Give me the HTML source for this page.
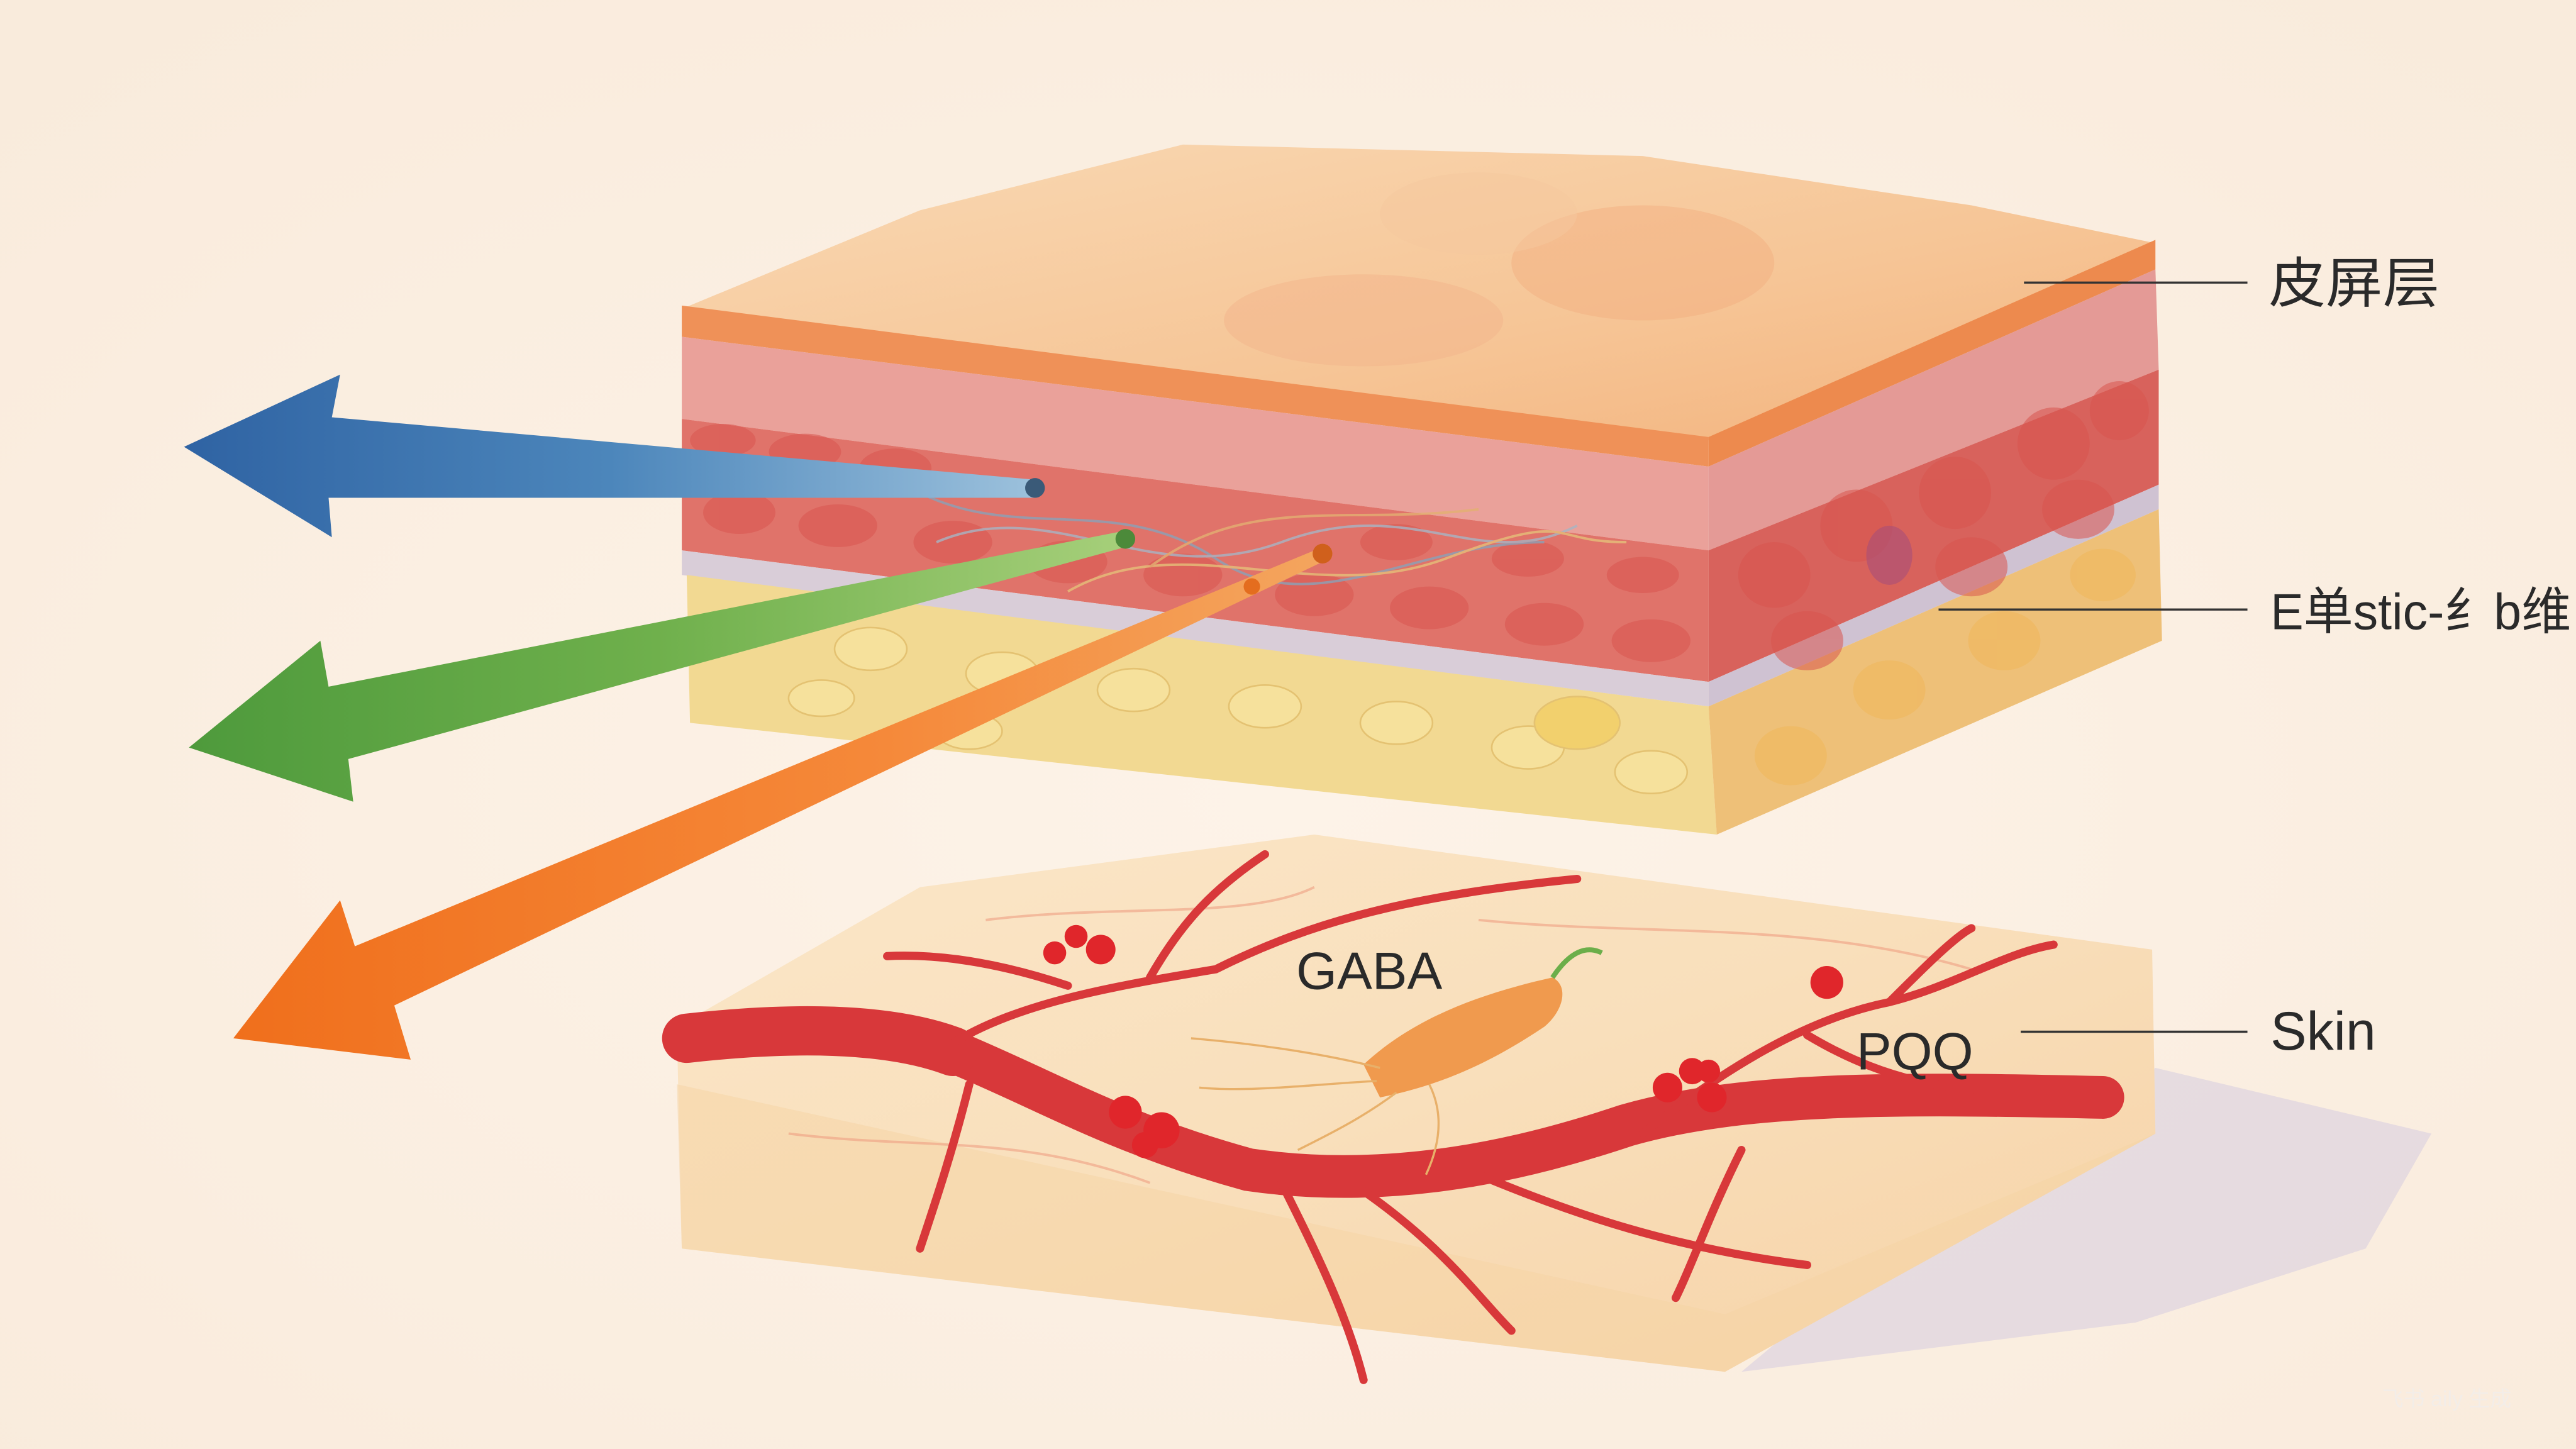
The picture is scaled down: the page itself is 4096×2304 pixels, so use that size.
<!DOCTYPE html>
<html><head><meta charset="utf-8"><style>
html,body{margin:0;padding:0;width:4096px;height:2304px;overflow:hidden;background:#fcf0e4}
svg{display:block}
text{font-family:"Liberation Sans","Noto Sans CJK SC",sans-serif;fill:#2a2a2a}
</style></head><body>
<svg width="4096" height="2304" viewBox="0 0 1568 882" preserveAspectRatio="none" xmlns="http://www.w3.org/2000/svg">
<defs>
<radialGradient id="bg" cx="0.5" cy="0.55" r="0.7"><stop offset="0" stop-color="#fdf3e8"/><stop offset="1" stop-color="#f9ebdc"/></radialGradient>
<linearGradient id="top" x1="0" y1="0" x2="1" y2="1"><stop offset="0" stop-color="#f9d9b4"/><stop offset="0.6" stop-color="#f6c596"/><stop offset="1" stop-color="#f3b27c"/></linearGradient>
<linearGradient id="blue" x1="0" x2="1"><stop offset="0" stop-color="#2f63a3"/><stop offset="0.5" stop-color="#4c86bb"/><stop offset="1" stop-color="#9cc1dc"/></linearGradient>
<linearGradient id="green" x1="0" x2="1"><stop offset="0" stop-color="#4e9a3c"/><stop offset="0.5" stop-color="#6fb04c"/><stop offset="1" stop-color="#a6cf7a"/></linearGradient>
<linearGradient id="orange" x1="0" x2="1"><stop offset="0" stop-color="#f06f1c"/><stop offset="0.6" stop-color="#f5893a"/><stop offset="1" stop-color="#f4a55e"/></linearGradient>
<linearGradient id="slab" x1="0" y1="0" x2="1" y2="1"><stop offset="0" stop-color="#fae6c8"/><stop offset="0.5" stop-color="#f9dfbb"/><stop offset="1" stop-color="#f6d2a6"/></linearGradient>
</defs>
<rect width="1568" height="882" fill="url(#bg)"/>

<polygon points="415,188 560,128 720,88 1000,95 1200,125 1312,148 1040,268" fill="url(#top)"/>
<ellipse cx="830" cy="195" rx="85" ry="28" fill="#f4b88e" opacity="0.6"/>
<ellipse cx="1000" cy="160" rx="80" ry="35" fill="#f2ad7e" opacity="0.45"/>
<ellipse cx="900" cy="130" rx="60" ry="25" fill="#f6c79e" opacity="0.5"/>
<polygon points="415,186 1040,266 1040,284 415,205" fill="#ef9158"/>
<polygon points="415,205 1040,284 1040,335 415,255" fill="#eaa19a"/>
<polygon points="415,255 1040,335 1040,415 415,335" fill="#e0736a"/>
<polygon points="415,335 1040,415 1040,430 415,350" fill="#d9cdd8"/>
<polygon points="418,350 1040,430 1045,508 420,440" fill="#f2d992"/>
<polygon points="1040,266 1312,146 1312,164 1040,284" fill="#ed8a4e"/>
<polygon points="1040,284 1312,164 1314,225 1040,335" fill="#e49a96"/>
<polygon points="1040,335 1314,225 1314,295 1040,415" fill="#d8625c"/>
<polygon points="1040,415 1314,295 1314,310 1040,430" fill="#cfc2d2"/>
<polygon points="1040,430 1314,310 1316,390 1045,508" fill="#eec078"/>
<g fill="#d9554f" opacity="0.55">
<ellipse cx="440" cy="268" rx="20" ry="10"/><ellipse cx="490" cy="275" rx="22" ry="11"/><ellipse cx="545" cy="285" rx="22" ry="12"/>
<ellipse cx="450" cy="312" rx="22" ry="13"/><ellipse cx="510" cy="320" rx="24" ry="13"/><ellipse cx="580" cy="330" rx="24" ry="13"/>
<ellipse cx="650" cy="342" rx="24" ry="13"/><ellipse cx="720" cy="350" rx="24" ry="13"/><ellipse cx="800" cy="362" rx="24" ry="13"/>
<ellipse cx="870" cy="370" rx="24" ry="13"/><ellipse cx="940" cy="380" rx="24" ry="13"/><ellipse cx="1005" cy="390" rx="24" ry="13"/>
<ellipse cx="850" cy="330" rx="22" ry="11"/><ellipse cx="930" cy="340" rx="22" ry="11"/><ellipse cx="1000" cy="350" rx="22" ry="11"/>
<ellipse cx="1080" cy="350" rx="22" ry="20"/><ellipse cx="1130" cy="320" rx="22" ry="22"/><ellipse cx="1190" cy="300" rx="22" ry="22"/>
<ellipse cx="1250" cy="270" rx="22" ry="22"/><ellipse cx="1290" cy="250" rx="18" ry="18"/><ellipse cx="1100" cy="390" rx="22" ry="18"/>
<ellipse cx="1200" cy="345" rx="22" ry="18"/><ellipse cx="1265" cy="310" rx="22" ry="18"/>
</g>
<ellipse cx="1150" cy="338" rx="14" ry="18" fill="#a84f78" opacity="0.6"/>
<g fill="#f7e29e" opacity="0.9" stroke="#e3c06f" stroke-width="1">
<ellipse cx="460" cy="380" rx="20" ry="12"/><ellipse cx="530" cy="395" rx="22" ry="13"/><ellipse cx="610" cy="410" rx="22" ry="13"/>
<ellipse cx="690" cy="420" rx="22" ry="13"/><ellipse cx="770" cy="430" rx="22" ry="13"/><ellipse cx="850" cy="440" rx="22" ry="13"/>
<ellipse cx="930" cy="455" rx="22" ry="13"/><ellipse cx="1005" cy="470" rx="22" ry="13"/><ellipse cx="500" cy="425" rx="20" ry="11"/>
<ellipse cx="590" cy="445" rx="20" ry="11"/><ellipse cx="960" cy="440" rx="26" ry="16" fill="#f2d069"/>
</g>
<g fill="#f0b75c" opacity="0.6">
<ellipse cx="1090" cy="460" rx="22" ry="18"/><ellipse cx="1150" cy="420" rx="22" ry="18"/><ellipse cx="1220" cy="390" rx="22" ry="18"/><ellipse cx="1280" cy="350" rx="20" ry="16"/>
</g>
<g fill="none" stroke-width="1.5" opacity="0.8">
<path d="M560,300 C620,330 680,300 740,340 S860,330 940,330" stroke="#8aa2b8"/>
<path d="M570,330 C640,300 700,360 780,330 S900,350 960,320" stroke="#a7b5c4"/>
<path d="M650,360 C720,320 800,370 880,340 S940,330 990,330" stroke="#e5c07a"/>
<path d="M700,345 C760,300 820,320 900,310" stroke="#e3b072"/>
</g>
<polygon points="112,272 207,228 202,254 630,292 630,303 200,303 202,327" fill="url(#blue)"/>
<polygon points="115,455 195,390 200,418 685,323 685,333 212,462 215,488" fill="url(#green)"/>
<polygon points="142,632 207,548 216,576 805,333 805,342 240,612 250,645" fill="url(#orange)"/>
<circle cx="630" cy="297" r="6" fill="#3a5a78"/>
<circle cx="685" cy="328" r="6" fill="#4c8a3a"/>
<circle cx="805" cy="337" r="6" fill="#d0601c"/>
<circle cx="762" cy="357" r="5" fill="#e46d1e"/>

<polygon points="1312,650 1480,690 1440,760 1300,805 1060,835 1150,760" fill="#d8cfe0" opacity="0.6"/>
<polygon points="412,625 560,540 800,508 1310,578 1312,690 1050,835 415,760" fill="url(#slab)"/>
<polygon points="412,660 1050,800 1312,690 1050,835 415,760" fill="#f6d4a4" opacity="0.5"/>
<g fill="none" stroke="#ef9f82" stroke-width="1.5" opacity="0.6">
<path d="M480,690 C560,700 620,690 700,720"/><path d="M900,560 C1000,570 1100,560 1200,590"/><path d="M600,560 C680,550 760,560 800,540"/>
</g>
<g fill="none" stroke="#d8383a" stroke-linecap="round">
<path d="M418,632 C480,625 540,625 580,640 C640,665 680,690 760,712 C850,725 930,705 990,685 C1060,665 1150,665 1280,668" stroke-width="26"/>
<path d="M418,632 C480,625 540,625 580,640" stroke-width="30"/>
<g stroke-width="5">
<path d="M580,635 C620,610 680,600 740,590 C800,560 860,545 960,535"/>
<path d="M700,595 C720,560 740,540 770,520"/>
<path d="M540,582 C580,580 620,590 650,600"/>
<path d="M590,660 C580,700 570,730 560,760"/>
<path d="M780,720 C800,760 820,800 830,840"/>
<path d="M900,715 C960,740 1020,760 1100,770"/>
<path d="M1000,690 C1050,650 1100,620 1150,610 C1190,600 1220,580 1250,575"/>
<path d="M1100,630 C1150,660 1200,670 1270,660"/>
<path d="M1060,700 C1040,740 1030,770 1020,790"/>
<path d="M1150,610 C1170,590 1190,570 1200,565"/>
<path d="M830,725 C880,760 900,790 920,810"/>
</g></g>
<g fill="#e0262b">
<circle cx="642" cy="580" r="7"/><circle cx="655" cy="570" r="7"/><circle cx="670" cy="578" r="9"/>
<circle cx="685" cy="677" r="10"/><circle cx="707" cy="688" r="11"/><circle cx="697" cy="697" r="8"/>
<circle cx="1015" cy="662" r="9"/><circle cx="1030" cy="652" r="8"/><circle cx="1042" cy="668" r="9"/><circle cx="1040" cy="652" r="7"/>
<circle cx="1112" cy="598" r="10"/>
</g>
<path d="M830,648 C860,620 900,605 945,595 C955,600 952,615 940,625 C910,645 880,660 840,668 Z" fill="#f09a4e"/>
<g fill="none" stroke="#e8b06a" stroke-width="1.3">
<path d="M840,650 C800,640 760,635 725,632"/><path d="M838,658 C800,660 760,665 730,662"/><path d="M850,665 C830,680 810,690 790,700"/><path d="M870,660 C880,680 875,700 868,715"/>
</g>
<path d="M945,595 C955,580 965,575 975,580" fill="none" stroke="#6cae4a" stroke-width="3"/>

<g stroke="#333" stroke-width="1.3">
<line x1="1232" y1="172" x2="1368" y2="172"/>
<line x1="1180" y1="371" x2="1368" y2="371"/>
<line x1="1230" y1="628" x2="1368" y2="628"/>
</g>
<text x="1381" y="184" font-size="33" textLength="104" lengthAdjust="spacingAndGlyphs">皮屏层</text>
<text x="1382" y="383" font-size="31" textLength="183" lengthAdjust="spacingAndGlyphs">E单stic-纟b维</text>
<text x="1382" y="639" font-size="33">Skin</text>
<text x="789" y="602" font-size="32">GABA</text>
<text x="1130" y="651" font-size="32">PQQ</text>
<text x="1450" y="856" font-size="13" style="fill:#f3ede8">飞书 aily 生成</text>
</svg>
</body></html>
